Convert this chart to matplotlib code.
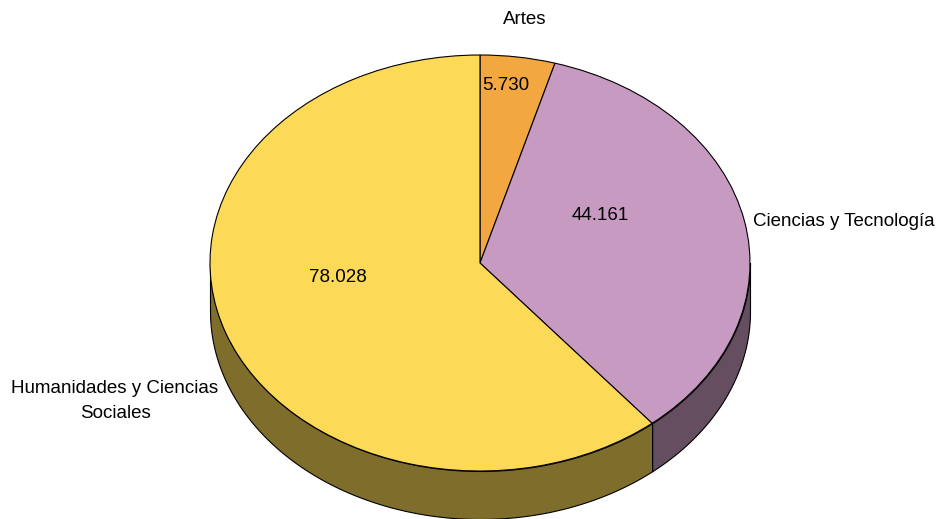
#!/usr/bin/env python3
# -*- coding: utf-8 -*-
"""Pie with fake 3D depth: Artes / Ciencias y Tecnologia / Humanidades."""

import matplotlib
matplotlib.use("Agg")
import matplotlib.pyplot as plt
import numpy as np

categories = ["Artes", "Ciencias y Tecnología", "Humanidades y Ciencias\nSociales"]
values = [5730, 44161, 78028]
value_labels = ["5.730", "44.161", "78.028"]
top_colors = ["#F2A741", "#C79AC1", "#FDD958"]
side_colors = ["#79532A", "#644E60", "#7F6D2B"]

W, H = 938, 519
CX, CY = 480, 263      # centre of the top ellipse, pixels
RX, RY = 270, 208      # ellipse radii
DEPTH = 48


def main():
    plt.rcParams["font.family"] = ["Liberation Sans", "DejaVu Sans"]
    fig = plt.figure(figsize=(W / 100, H / 100), dpi=100)
    ax = fig.add_axes([0, 0, 1, 1])

    ax.pie(
        values,
        colors=top_colors,
        startangle=90,
        counterclock=False,
        wedgeprops={"edgecolor": "black", "linewidth": 0.8, "zorder": 3},
    )
    # pie forces equal aspect, the ellipse comes from the limits instead
    ax.set_aspect("auto")
    ax.set_xlim(-CX / RX, (W - CX) / RX)
    ax.set_ylim((CY - H) / RY, CY / RY)
    ax.axis("off")

    d = DEPTH / RY
    fracs = np.array(values, dtype=float) / sum(values)
    edges = np.concatenate([[0], np.cumsum(fracs)]) * 2 * np.pi

    # side wall: only the part of each slice on the front half of the ellipse
    for i in range(len(values)):
        a0 = max(edges[i], np.pi / 2)
        a1 = min(edges[i + 1], 3 * np.pi / 2)
        if a1 <= a0:
            continue
        t = np.linspace(a0, a1, 200)
        x = np.sin(t)
        y = np.cos(t)
        ax.fill_between(
            x, y, y - d,
            facecolor=side_colors[i],
            edgecolor="black",
            linewidth=0.8,
            zorder=2,
        )

    # label anchors in pixels, y down
    inner = [(506, 85), (600, 216), (338, 278)]
    for (px, py), txt in zip(inner, value_labels):
        ax.text(
            (px - CX) / RX,
            (CY - py) / RY,
            txt,
            ha="center",
            va="center",
            fontsize=13.5,
            color="black",
            zorder=5,
        )

    outer = [
        (525, 20, "center"),
        (935, 222, "right"),
        (115, 401, "center"),
    ]
    for (px, py, ha), name in zip(outer, categories):
        ax.text(
            (px - CX) / RX,
            (CY - py) / RY,
            name,
            ha=ha,
            va="center",
            fontsize=13.5,
            linespacing=1.65,
            color="black",
            zorder=5,
        )

    fig.savefig("out.png", dpi=100, facecolor="white")
    plt.close(fig)


if __name__ == "__main__":
    main()
